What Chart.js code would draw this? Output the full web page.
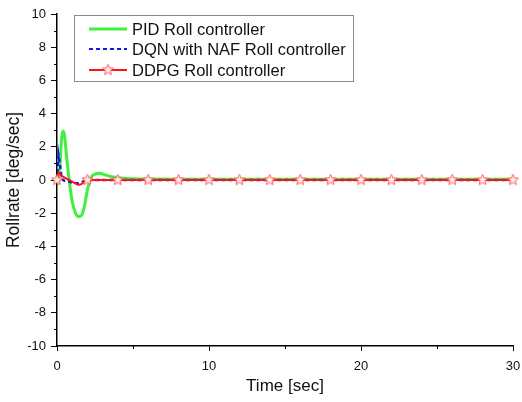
<!DOCTYPE html>
<html>
<head>
<meta charset="utf-8">
<script src="https://cdn.jsdelivr.net/npm/chart.js@4/dist/chart.umd.min.js"></script>
<style>
  html, body { margin: 0; padding: 0; background: #fff; }
  #wrap { width: 522px; height: 402px; }
</style>
</head>
<body>
<div id="wrap"><canvas id="chart" width="522" height="402"></canvas></div>
<script>
// sample times (sec)
const times = [0, 0.1, 0.2, 0.3, 0.4, 0.5, 0.6, 0.8, 1.0, 1.2, 1.4, 1.6, 1.8, 2.0, 2.2, 2.5, 2.8, 3.2, 3.6,
    4, 5, 6, 8, 10, 12, 14, 16, 18, 20, 22, 24, 26, 28, 30];

// roll rate [deg/sec] per controller
const pidRate = [0, -0.2, 0.9, 2.5, 2.95, 2.65, 1.7, 0, -1.3, -1.95, -2.2, -2.15, -1.6, -0.6, 0.1, 0.35, 0.4, 0.3, 0.2,
    0.14, 0.08, 0.06, 0.05, 0.05, 0.05, 0.05, 0.05, 0.05, 0.05, 0.05, 0.05, 0.05, 0.05, 0.05];
const dqnRate = [0, 1.5, 0.9, 0.1, 0, -0.05, -0.05, -0.1, -0.15, -0.18, -0.2, -0.15, -0.05, 0, 0, 0, 0, 0, 0,
    0, 0, 0, 0, 0, 0, 0, 0, 0, 0, 0, 0, 0, 0, 0];
const ddpgRate = [0, 0.45, 0.35, 0.25, 0.2, 0.15, 0.1, 0, -0.1, -0.2, -0.3, -0.25, -0.1, 0, 0, 0, 0, 0, 0,
    0, 0, 0, 0, 0, 0, 0, 0, 0, 0, 0, 0, 0, 0, 0];

const seriesLabels = ['PID Roll controller', 'DQN with NAF Roll controller', 'DDPG Roll controller'];
const yTicks = [-10, -8, -6, -4, -2, 0, 2, 4, 6, 8, 10];
const xTicks = [0, 10, 20, 30];

const FONT = "'Liberation Sans', Arial, sans-serif";

// hollow five-point star used as marker
function makeStar() {
    const c = document.createElement('canvas');
    c.width = 13; c.height = 13;
    const g = c.getContext('2d');
    g.beginPath();
    for (let i = 0; i < 10; i++) {
        const r = i % 2 === 0 ? 5.8 : 2.5;
        const a = -Math.PI / 2 + i * Math.PI / 5;
        const px = 6.5 + r * Math.cos(a), py = 6.5 + r * Math.sin(a);
        if (i === 0) g.moveTo(px, py); else g.lineTo(px, py);
    }
    g.closePath();
    g.fillStyle = '#fff0f0';
    g.fill();
    g.strokeStyle = '#ff5a5a';
    g.lineWidth = 1;
    g.stroke();
    return c;
}
const star = makeStar();

const toPts = arr => arr.map((v, i) => ({ x: times[i], y: v }));

const colors = ['#3ff03f', '#1515ee', '#ff1414'];

// minor ticks + boxed legend
const extras = {
    id: 'extras',
    afterDraw(chart) {
        const ctx = chart.ctx;
        const { left, bottom } = chart.chartArea;
        const xs = chart.scales.x, ys = chart.scales.y;
        ctx.save();
        ctx.strokeStyle = '#000';
        ctx.lineWidth = 1;
        ctx.beginPath();
        for (let v = -9; v <= 9; v += 2) {
            const py = Math.round(ys.getPixelForValue(v)) + 0.5;
            ctx.moveTo(left - 3, py); ctx.lineTo(left, py);
        }
        [5, 15, 25].forEach(v => {
            const px = Math.round(xs.getPixelForValue(v)) + 0.5;
            ctx.moveTo(px, bottom); ctx.lineTo(px, bottom + 3);
        });
        ctx.stroke();

        // legend box
        ctx.fillStyle = '#fff';
        ctx.fillRect(74.5, 15.5, 279, 66);
        ctx.strokeStyle = '#8a8a8a';
        ctx.strokeRect(74.5, 15.5, 279, 66);
        const rows = [29, 49, 70];
        ctx.font = '16.5px ' + FONT;
        ctx.textBaseline = 'middle';
        rows.forEach((ry, i) => {
            ctx.beginPath();
            ctx.strokeStyle = colors[i];
            ctx.lineWidth = i === 0 ? 3 : 2;
            ctx.setLineDash(i === 1 ? [4, 3] : []);
            ctx.moveTo(89, ry); ctx.lineTo(127, ry);
            ctx.stroke();
            ctx.setLineDash([]);
            if (i === 2) ctx.drawImage(star, 108 - 6.5, ry - 6.5);
            ctx.fillStyle = '#111';
            ctx.fillText(seriesLabels[i], 132, ry + 1);
        });
        ctx.restore();
    }
};

new Chart(document.getElementById('chart'), {
    type: 'line',
    data: {
        datasets: [{
            label: seriesLabels[0],
            data: toPts(pidRate),
            borderColor: colors[0],
            borderWidth: 3,
            pointRadius: 0,
            cubicInterpolationMode: 'monotone',
            order: 3
        }, {
            label: seriesLabels[1],
            data: toPts(dqnRate),
            borderColor: colors[1],
            borderWidth: 2.5,
            borderDash: [4, 3],
            pointRadius: 0,
            tension: 0,
            order: 2
        }, {
            label: seriesLabels[2],
            data: toPts(ddpgRate),
            borderColor: colors[2],
            borderWidth: 2,
            tension: 0,
            pointStyle: star,
            pointRadius: c => (c.raw && c.raw.x % 2 === 0) ? 6 : 0,
            clip: false,
            order: 1
        }]
    },
    options: {
        responsive: false,
        animation: false,
        layout: { padding: { left: 0, top: 14, right: 9, bottom: 0 } },
        plugins: { legend: { display: false }, tooltip: { enabled: false } },
        scales: {
            x: {
                type: 'linear',
                min: 0, max: 30,
                afterFit: s => { s.height = 56; s.paddingLeft = 0; s.paddingRight = 0; },
                border: { display: true, color: '#000', width: 1.5 },
                grid: {
                    drawOnChartArea: false, drawTicks: true, tickLength: 5,
                    tickColor: c => (c.tick && c.tick.value % 10 === 0) ? '#000' : 'rgba(0,0,0,0)'
                },
                ticks: {
                    stepSize: 5, autoSkip: false, maxRotation: 0, padding: 8,
                    color: '#111', font: { family: FONT, size: 13 },
                    callback: v => xTicks.includes(v) ? String(v) : ''
                },
                title: {
                    display: true, text: 'Time [sec]', color: '#111',
                    font: { family: FONT, size: 17 }, padding: { top: 0, bottom: 5 }
                }
            },
            y: {
                min: -10, max: 10,
                afterFit: s => { s.width = 57; s.paddingTop = 0; s.paddingBottom = 0; },
                border: { display: true, color: '#000', width: 1.5 },
                grid: {
                    drawOnChartArea: false, drawTicks: true, tickLength: 6,
                    tickColor: c => (c.tick && c.tick.value % 2 === 0) ? '#000' : 'rgba(0,0,0,0)'
                },
                ticks: {
                    stepSize: 1, autoSkip: false, padding: 5,
                    color: '#111', font: { family: FONT, size: 13 },
                    callback: v => yTicks.includes(v) ? String(v) : ''
                },
                title: {
                    display: true, text: 'Rollrate [deg/sec]', color: '#111',
                    font: { family: FONT, size: 17.5 }, padding: { top: 4, bottom: 0 }
                }
            }
        }
    },
    plugins: [extras]
});
</script>
</body>
</html>
